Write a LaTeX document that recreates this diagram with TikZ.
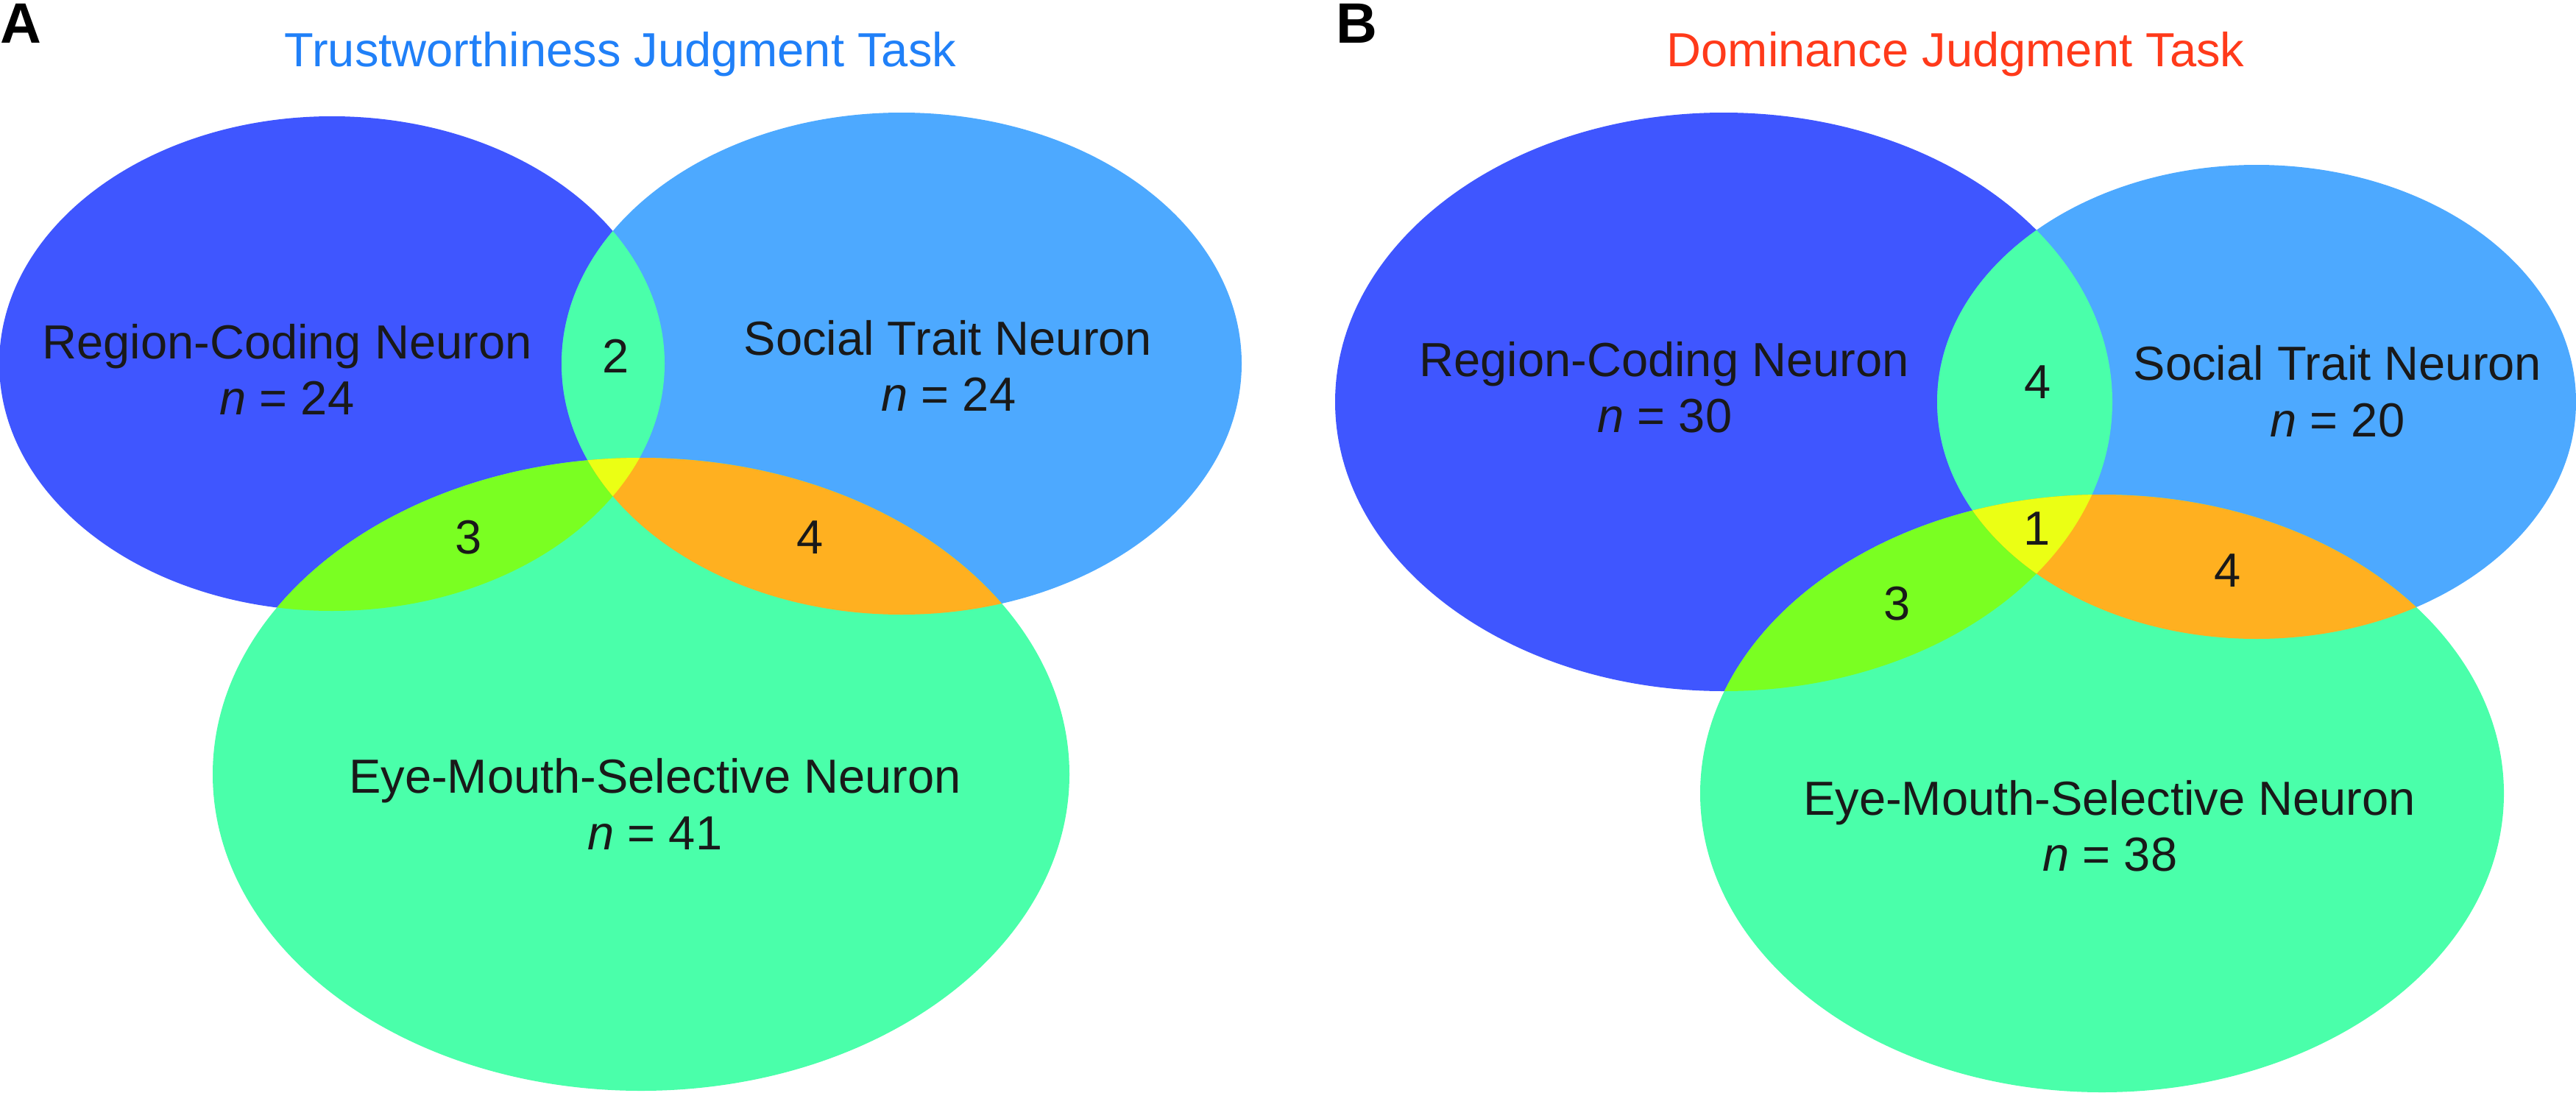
\documentclass[tikz,border=0pt]{standalone}
\usepackage{fontspec}
\setmainfont{Liberation Sans}
\definecolor{rcblue}{HTML}{3F56FF}
\definecolor{stblue}{HTML}{4DA9FF}
\definecolor{emgreen}{HTML}{4AFFAA}
\definecolor{lensgreen}{HTML}{4AFFAA}
\definecolor{limegreen}{HTML}{7AFF22}
\definecolor{ambers}{HTML}{FFB020}
\definecolor{tripleyel}{HTML}{EBFF14}
\definecolor{trustblue}{HTML}{2080F8}
\definecolor{domred}{HTML}{FF3A1A}
\tikzset{%
    lbl/.style={anchor=base,inner sep=0pt,outer sep=0pt,text=black!90,font=\fontsize{18.5}{22}\selectfont},
    ttl/.style={lbl,text=#1},
    panel/.style={anchor=base west,inner sep=0pt,outer sep=0pt,font=\bfseries\fontsize{22}{26}\selectfont},
}

\begin{document}
\begin{tikzpicture}
	
	\def \k {0.01}
	\useasboundingbox (0,0) rectangle (3500*\k,-1484*\k);
	
	%ellipses, panel A
	\def \rcA {(451*\k,-494*\k) ellipse [x radius=452*\k, y radius=336*\k]}
	\def \stA {(1225*\k,-494*\k) ellipse [x radius=462*\k, y radius=341*\k]}
	\def \emA {(871*\k,-1052*\k) ellipse [x radius=582*\k, y radius=430*\k]}
	%ellipses, panel B
	\def \rcB {(2342*\k,-546*\k) ellipse [x radius=528*\k, y radius=393*\k]}
	\def \stB {(3066*\k,-546*\k) ellipse [x radius=434*\k, y radius=322*\k]}
	\def \emB {(2856*\k,-1078*\k) ellipse [x radius=546*\k, y radius=406*\k]}
	
	%%%%%%%%%%%%%%%%%%% A
	\fill[rcblue] \rcA;
	\fill[stblue] \stA;
	\fill[emgreen] \emA;
	\begin{scope} \clip \rcA; \fill[lensgreen] \stA; \end{scope}
	\begin{scope} \clip \rcA; \fill[limegreen] \emA; \end{scope}
	\begin{scope} \clip \stA; \fill[ambers] \emA; \end{scope}
	\begin{scope} \clip \rcA; \clip \stA; \fill[tripleyel] \emA; \end{scope}
	
	%%%%%%%%%%%%%%%%%%% B
	\fill[rcblue] \rcB;
	\fill[stblue] \stB;
	\fill[emgreen] \emB;
	\begin{scope} \clip \rcB; \fill[lensgreen] \stB; \end{scope}
	\begin{scope} \clip \rcB; \fill[limegreen] \emB; \end{scope}
	\begin{scope} \clip \stB; \fill[ambers] \emB; \end{scope}
	\begin{scope} \clip \rcB; \clip \stB; \fill[tripleyel] \emB; \end{scope}
	
	%labels A
	\node[panel] (pA) at (0,-58*\k) {A};
	\node[ttl=trustblue] (titleA) at (843*\k,-90*\k) {Trustworthiness Judgment Task};
	\node[lbl] (rcA) at (390*\k,-487*\k) {Region-Coding Neuron};
	\node[lbl] (rcAn) at (390*\k,-563*\k) {\textit{n} = 24};
	\node[lbl] (stA) at (1288*\k,-482*\k) {Social Trait Neuron};
	\node[lbl] (stAn) at (1289*\k,-558*\k) {\textit{n} = 24};
	\node[lbl] (emA) at (890*\k,-1077*\k) {Eye-Mouth-Selective Neuron};
	\node[lbl] (emAn) at (890*\k,-1154*\k) {\textit{n} = 41};
	\node[lbl] (rcstA) at (837*\k,-506*\k) {2};
	\node[lbl] (rcemA) at (637*\k,-752*\k) {3};
	\node[lbl] (stemA) at (1101*\k,-752*\k) {4};
	
	%labels B
	\node[panel] (pB) at (1815*\k,-58*\k) {B};
	\node[ttl=domred] (titleB) at (2657*\k,-90*\k) {Dominance Judgment Task};
	\node[lbl] (rcB) at (2261*\k,-511*\k) {Region-Coding Neuron};
	\node[lbl] (rcBn) at (2262*\k,-587*\k) {\textit{n} = 30};
	\node[lbl] (stB) at (3176*\k,-516*\k) {Social Trait Neuron};
	\node[lbl] (stBn) at (3176*\k,-593*\k) {\textit{n} = 20};
	\node[lbl] (emB) at (2866*\k,-1107*\k) {Eye-Mouth-Selective Neuron};
	\node[lbl] (emBn) at (2867*\k,-1183*\k) {\textit{n} = 38};
	\node[lbl] (rcstB) at (2769*\k,-541*\k) {4};
	\node[lbl] (allB) at (2768*\k,-740*\k) {1};
	\node[lbl] (rcemB) at (2578*\k,-842*\k) {3};
	\node[lbl] (stemB) at (3027*\k,-797*\k) {4};
	
\end{tikzpicture}
\end{document}
